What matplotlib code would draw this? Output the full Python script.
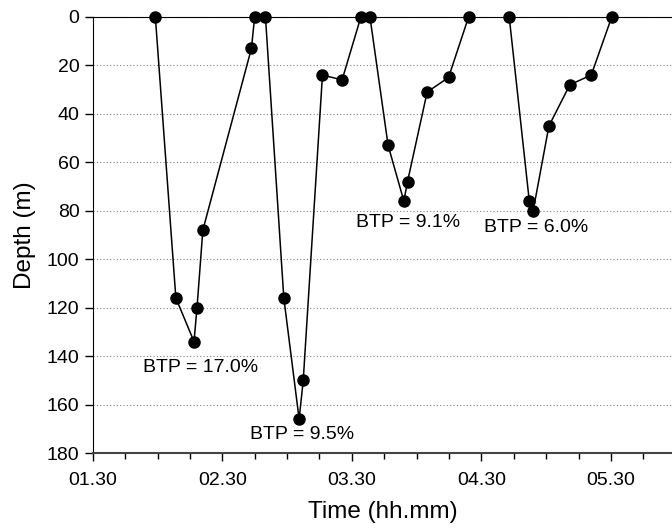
import numpy as np
import matplotlib
matplotlib.use("Agg")
import matplotlib.pyplot as plt
from matplotlib.ticker import MultipleLocator, FuncFormatter

plt.rcParams['font.family'] = ['Liberation Sans', 'DejaVu Sans']

# time in minutes after midnight, depth in metres
t_dive1 = [119, 128.5, 136.9, 138.3, 141, 163.5, 165]
d_dive1 = [0, 116, 134, 120, 88, 13, 0]
t_dive2 = [170, 178.5, 185.6, 187.5, 196.4, 205.5, 214.2]
d_dive2 = [0, 116, 166, 150, 24, 26, 0]
t_dive3 = [218.4, 226.8, 234.1, 235.8, 244.9, 254.8, 264.1]
d_dive3 = [0, 53, 76, 68, 31, 25, 0]
t_dive4 = [282.9, 292.2, 294, 301.3, 311, 320.9, 330.4]
d_dive4 = [0, 76, 80, 45, 28, 24, 0]

btp_text = ["BTP = 17.0%", "BTP = 9.5%", "BTP = 9.1%", "BTP = 6.0%"]
btp_t = [113.2, 162.8, 211.9, 271.2]
btp_d = [144.5, 172.5, 84.8, 87]

fig = plt.figure(figsize=(6.72, 5.28), dpi=100)
ax = fig.add_axes([0.138, 0.142, 0.862, 0.826])

for t, d in [(t_dive1, d_dive1), (t_dive2, d_dive2), (t_dive3, d_dive3), (t_dive4, d_dive4)]:
    ax.plot(t, d, color='black', lw=1.1, marker='o', ms=8, clip_on=False, zorder=3)

for s, t, d in zip(btp_text, btp_t, btp_d):
    ax.text(t, d, s, fontsize=14, ha='left', va='center')

ax.set_xlim(90, 358.3)
ax.set_ylim(180, 0)
ax.xaxis.set_major_locator(MultipleLocator(60, offset=30))
ax.xaxis.set_minor_locator(MultipleLocator(15))
ax.xaxis.set_major_formatter(FuncFormatter(lambda m, p: f"{int(m // 60):02d}.{int(round(m % 60)):02d}"))
ax.yaxis.set_major_locator(MultipleLocator(20))

ax.tick_params(axis='both', which='major', direction='out', length=6, width=1, labelsize=14)
ax.tick_params(axis='x', which='minor', direction='out', length=4, width=1)
ax.tick_params(axis='x', pad=8)

ax.yaxis.grid(True, linestyle=(0, (1, 2)), color='gray', lw=0.8)
ax.set_axisbelow(True)
ax.spines['right'].set_visible(False)
ax.spines['bottom'].set_color('#444444')
ax.spines['bottom'].set_linewidth(1.5)

ax.set_xlabel("Time (hh.mm)", fontsize=17.5, labelpad=8)
ax.set_ylabel("Depth (m)", fontsize=17.5, labelpad=8)

fig.savefig("out.png", dpi=100)
